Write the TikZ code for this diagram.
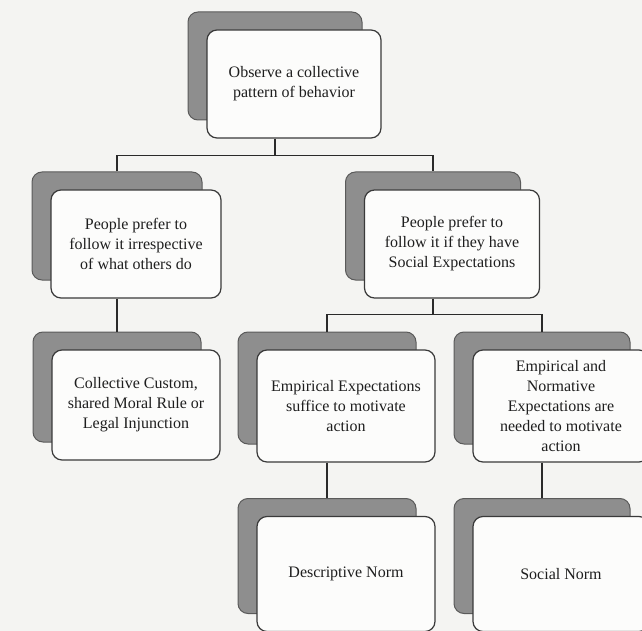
\documentclass[tikz,border=0pt]{standalone}
\usepackage{fontspec}
\setmainfont{Liberation Serif}
\usepackage{xcolor}
\usepackage{tikz}
\usetikzlibrary{calc}
\definecolor{paper}     {HTML}{F4F4F2}
\definecolor{cardgrey}  {HTML}{8E8E8E}
\definecolor{cardedge}  {HTML}{5A5A5A}
\definecolor{cardface}  {HTML}{FCFCFB}
\definecolor{faceedge}  {HTML}{3A3A3A}
\definecolor{linecol}   {HTML}{2A2A2A}
\definecolor{darktext}  {HTML}{1E1E1E}
\tikzset{
  cardsize/.style 2 args={minimum width=#1pt, minimum height=#2pt},
  backcard/.style={
    rectangle, rounded corners=10pt,
    draw=cardedge, fill=cardgrey, line width=1pt,
    inner sep=0pt
  },
  frontcard/.style={
    rectangle, rounded corners=10pt,
    draw=faceedge, fill=cardface, line width=1.2pt,
    text=darktext, align=center, inner sep=2pt,
    font=\fontsize{16}{20}\selectfont,
    xshift=19pt, yshift=-18pt
  },
  treeline/.style={line width=1.5pt, color=linecol}
}

\begin{document}
\begin{tikzpicture}[x=1pt, y=-1pt]

  \path[use as bounding box, fill=paper] (0,0) rectangle (642,631);
  \clip (0,0) rectangle (642,631);

  % top
  \node[backcard, cardsize={174}{108}] (obsb) at (275,66) {};
  \node[frontcard, cardsize={174}{108}] (obs) at (obsb)
    {Observe a collective\\pattern of behavior};

  % second row
  \node[backcard, cardsize={170}{108}] (indivb) at (117,226) {};
  \node[frontcard, cardsize={170}{108}] (indiv) at (indivb)
    {People prefer to\\follow it irrespective\\of what others do};

  \node[backcard, cardsize={175}{108}] (socialb) at (433,226) {};
  \node[frontcard, cardsize={175}{108}] (social) at (socialb)
    {People prefer to\\follow it if they have\\Social Expectations};

  % third row
  \node[backcard, cardsize={168}{110}] (customb) at (117,387) {};
  \node[frontcard, cardsize={168}{110}] (custom) at (customb)
    {Collective Custom,\\shared Moral Rule or\\Legal Injunction};

  \node[backcard, cardsize={178}{112}] (empirb) at (327,388) {};
  \node[frontcard, cardsize={178}{112}] (empir) at (empirb)
    {Empirical Expectations\\suffice to motivate\\action};

  \node[backcard, cardsize={176}{112}] (normatb) at (542,388) {};
  \node[frontcard, cardsize={176}{112}] (normat) at (normatb)
    {Empirical and\\Normative\\Expectations are\\needed to motivate\\action};

  % bottom row
  \node[backcard, cardsize={178}{115}] (descrb) at (327,556) {};
  \node[frontcard, cardsize={178}{115}] (descr) at (descrb)
    {Descriptive Norm};

  \node[backcard, cardsize={176}{115}] (snormb) at (542,556) {};
  \node[frontcard, cardsize={176}{115}] (snorm) at (snormb)
    {Social Norm};

  % forks
  \draw[treeline] (obsb.center |- obs.south) -- ++(0,17) coordinate (fork1);
  \draw[treeline] (indivb.north) |- (fork1) -| (socialb.north);

  \draw[treeline] (socialb.center |- social.south) -- ++(0,16) coordinate (fork2);
  \draw[treeline] (empirb.north) |- (fork2) -| (normatb.north);

  % straight drops
  \foreach \a/\b in {indiv/customb, empir/descrb, normat/snormb}{
    \draw[treeline] (\b.north |- \a.south) -- (\b.north);
  }

\end{tikzpicture}
\end{document}
